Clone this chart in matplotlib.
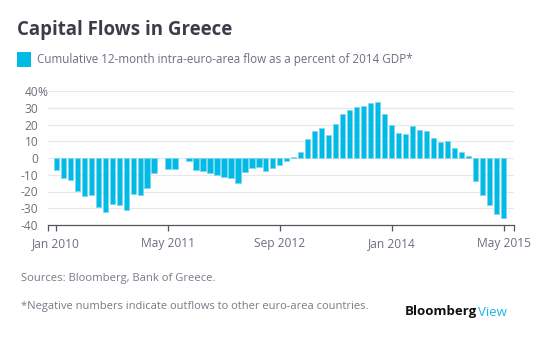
import numpy as np
import pandas as pd
import matplotlib
matplotlib.use("Agg")
import matplotlib.pyplot as plt
from matplotlib.patches import Rectangle
import matplotlib.transforms as mtransforms

plt.rcParams['font.family'] = ['Open Sans', 'DejaVu Sans']

# monthly data, Jan 2010 .. May 2015 (nan = no bar shown)
months = pd.date_range("2010-01-01", "2015-05-01", freq="MS")
flows = [-7.2, -12, -13, -19.8, -22.8, -22, -29.4, -32.4, -27.4, -28.2, -31.2, -21.4, -22.2, -17.8, -9,
         np.nan, -6.6, -6.6, np.nan,
         -1.8, -7.2, -7.8, -9, -10.2, -11.4, -12, -15, -8.4, -6, -5.4, -7.8, -6, -4.2, -1.8,
         0.8, 3.6, 11.4, 16.2, 18, 13.8, 20.4, 26.4, 28.8, 30.6, 31.2, 33, 33.6,
         26.4, 19.8, 15, 14.4, 19.2, 16.8, 16.2, 12, 9.6, 10.2, 6, 3.6, 1.4,
         -13.8, -22.2, -28.2, -33.6, -36]
tick_months = ["2010-01", "2011-05", "2012-09", "2014-01", "2015-05"]
yticks = [-40, -30, -20, -10, 0, 10, 20, 30, 40]

W, H = 551, 343
fig = plt.figure(figsize=(W / 100, H / 100), dpi=100)
renderer = fig.canvas.get_renderer()


def fit(t, width_px):
    # scale font so the text spans the width seen in the reference
    w = t.get_window_extent(renderer).width
    t.set_fontsize(t.get_fontsize() * width_px / w)
    return t


# font size of axis labels, from the width of "Jan 2010"
probe = fit(fig.text(0, 0, "Jan 2010", fontsize=8), 48)
lsize = probe.get_fontsize()
probe.remove()

ax = fig.add_axes([48 / W, 1 - 225 / H, (513.7 - 48) / W, (225 - 91) / H])

x = np.arange(len(months))
ax.bar(x, flows, width=0.72, color="#00bbe6", edgecolor="#80d6ef", linewidth=0.6, zorder=3)

ax.set_xlim(-1.15, 65.4)
ax.set_ylim(-40, 40)

label_color = "#6e6e80"
tick_pos = [months.get_loc(pd.Timestamp(m)) for m in tick_months]
ax.set_xticks(tick_pos)
ax.set_xticklabels([pd.Timestamp(m).strftime("%b %Y") for m in tick_months])
ax.set_xticks([-1.15, 65.4], minor=True)
ax.tick_params(axis="x", which="both", length=4.5, width=0.9, color="#555560",
               labelsize=lsize, labelcolor=label_color, pad=4.5)

# y labels drawn by hand so the "%" can hang past the column of numbers
ax.set_yticks(yticks)
ax.set_yticklabels([])
ax.tick_params(axis="y", length=0)
trans = mtransforms.blended_transform_factory(fig.transFigure, ax.transData)
for v in yticks:
    ax.text(38.5 / W, v, str(v), transform=trans, ha="right", va="center_baseline",
            fontsize=lsize, color=label_color)
ax.text(37.8 / W, 40, "%", transform=trans, ha="left", va="center_baseline",
        fontsize=lsize, color=label_color)

ax.grid(axis="y", color="#e8e8e8", linewidth=0.9, zorder=0)
ax.set_axisbelow(True)
for s in ["top", "right", "left"]:
    ax.spines[s].set_visible(False)
ax.spines["bottom"].set_color("#555560")
ax.spines["bottom"].set_linewidth(0.9)
ax.spines["bottom"].set_zorder(4)

# title and legend
title = fig.text(17 / W, 1 - 35 / H, "Capital Flows in Greece", fontsize=14, fontweight="bold",
                 color="#3c3c4a", va="baseline")
fit(title, 216)
fig.patches.append(Rectangle((17 / W, 1 - 67 / H), 14 / W, 15 / H, transform=fig.transFigure,
                             facecolor="#00bbe6", edgecolor="none"))
leg = fig.text(37 / W, 1 - 59.5 / H, "Cumulative 12-month intra-euro-area flow as a percent of 2014 GDP*",
               fontsize=8, color="#6e6e80", va="center")
fit(leg, 376)

# footer
src = fig.text(21 / W, 1 - 278 / H, "Sources: Bloomberg, Bank of Greece.", fontsize=7.6,
               color="#7a7a88", va="center")
fit(src, 193)
note = fig.text(21 / W, 1 - 307 / H, "*Negative numbers indicate outflows to other euro-area countries.",
                fontsize=7.6, color="#7a7a88", va="center")
fit(note, 346)
bb = fig.text(405 / W, 1 - 312 / H, "Bloomberg", fontsize=8.6, fontweight="bold", color="#111111",
              va="center")
fit(bb, 72)
bx = bb.get_window_extent(renderer).x1
fig.text((bx + 0.5) / W, 1 - 312 / H, "View", fontsize=bb.get_fontsize(), color="#1fb5e6",
         va="center")

fig.savefig("out.png", dpi=100)
